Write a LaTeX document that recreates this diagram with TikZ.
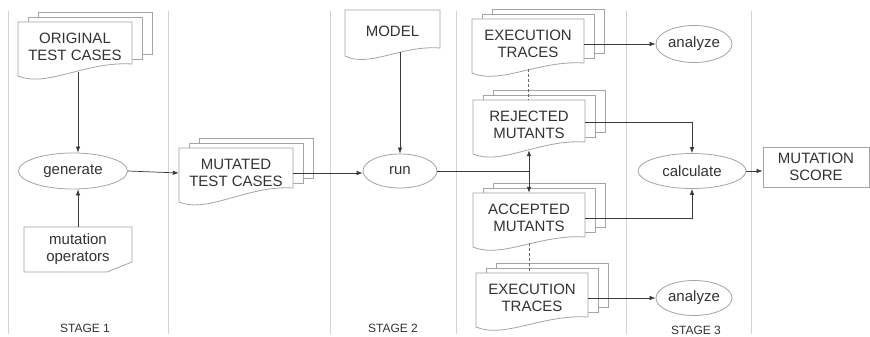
\documentclass[tikz,border=0pt]{standalone}
\usepackage{fontspec}
\setmainfont{Liberation Sans}
\usetikzlibrary{arrows.meta,shapes.geometric,calc}
\definecolor{edge}{HTML}{A4A4A4}
\definecolor{sepc}{HTML}{D2D2D2}
\definecolor{ink}{HTML}{333333}
\definecolor{arr}{HTML}{3A3A3A}

% front document: #1 x, #2 y, #3 w, #4 right height, #5 left height, #6 name, #7 text
\newcommand\docfront[7]{%
  \draw[docline] (#1,#2) -- ++(#3,0) -- ++(0,#4)
     .. controls ({#1+0.6*#3},{#2+#4-3}) and ({#1+0.25*#3},{#2+#5+12}) .. (#1,{#2+#5}) -- cycle;
  \node[doctext, minimum width=#3, minimum height={#5-4}] (#6) at ({#1+#3/2},{#2+(#5-4)/2}) {#7};}
\newcommand\docstack[7]{%
  \draw[docline] ({#1+20},{#2-10}) rectangle ++(#3,#4);
  \draw[docline] ({#1+10},{#2-5}) rectangle ++(#3,#4);
  \docfront{#1}{#2}{#3}{#4}{#5}{#6}{#7}}

\begin{document}
\begin{tikzpicture}[x=1pt,y=-1pt,
  docline/.style={draw=edge, fill=white, line width=0.8pt},
  doctext/.style={text=ink, font=\fontsize{15}{17}\selectfont, align=center, inner sep=0pt},
  proc/.style={ellipse, draw=edge, fill=white, line width=0.8pt, text=ink, font=\fontsize{15}{17}\selectfont, inner sep=0pt},
  conn/.style={draw=arr, line width=0.7pt, -{Latex[length=6pt,width=4.5pt]}},
  plainconn/.style={draw=arr, line width=0.7pt},
  dashconn/.style={draw=arr!75, line width=0.7pt, dash pattern=on 3pt off 2pt},
  stagelbl/.style={text=ink, font=\fontsize{12}{14}\selectfont, inner sep=0pt},
  sepline/.style={draw=sepc, line width=0.8pt}]

\fill[white] (0,0) rectangle (870,337);
\useasboundingbox (0,0) rectangle (870,337);

\foreach \xx in {8,168,330,456,626,751} \draw[sepline] (\xx,11) -- (\xx,334);

% documents
\docstack{18}{22}{114}{42}{54}{orig}{ORIGINAL\\TEST CASES}
\docstack{179}{148}{114}{40}{54}{mut}{MUTATED\\TEST CASES}
\docfront{345}{10}{95}{38}{46}{model}{MODEL}
\docstack{472}{19}{112}{44}{54}{ex1}{EXECUTION\\TRACES}
\docstack{473}{100}{112}{42}{54}{rej}{REJECTED\\MUTANTS}
\docstack{473}{193}{112}{44}{54}{acc}{ACCEPTED\\MUTANTS}
\docstack{476}{273}{112}{44}{54}{ex2}{EXECUTION\\TRACES}

% mutation operators card
\draw[docline] (24,227) -- (132,227) -- (132,262) -- (107,272) -- (24,272) -- cycle;
\node[doctext, minimum width=108, minimum height=45] (mo) at (78,249.5) {mutation\\operators};

% processes
\node[proc, minimum width=109, minimum height=36] (gen) at (73,171) {generate};
\node[proc, minimum width=74, minimum height=34] (run) at (400,171) {run};
\node[proc, minimum width=76, minimum height=37] (an1) at (694,44) {analyze};
\node[proc, minimum width=108, minimum height=35] (calc) at (692,171) {calculate};
\node[proc, minimum width=76, minimum height=35] (an2) at (694,298) {analyze};
\node[doctext, draw=edge, line width=0.8pt, minimum width=106, minimum height=40] (score) at (816,167) {MUTATION\\SCORE};

% connectors
\draw[conn] (orig.south -| mo.north) -- (mo.north |- gen.north);
\draw[conn] (mo.north) -- (mo.north |- gen.south);
\draw[conn] (gen.east) -- (mut.west);
\draw[conn] (mut.east) -- (mut.east -| run.west);
\draw[conn] (model.south -| run.north) -- (run.north);
\coordinate (j) at (rej.south |- run.east);
\draw[plainconn] (run.east) -- (j);
\draw[conn] (j) -- (rej.south);
\draw[conn] (j) -- (acc.north);
\draw[dashconn] (ex1.south) -- (ex1.south |- rej.north);
\draw[dashconn] (acc.south) -- (acc.south |- ex2.north);
\draw[conn] (ex1.east) -- (ex1.east -| an1.west);
\draw[conn] ([yshift=3pt]rej.east) -| (calc.north);
\draw[conn] (acc.east) -| (calc.south);
\draw[conn] (calc.east) -- (calc.east -| score.west);
\draw[conn] (ex2.east) -- (ex2.east -| an2.west);

% stage labels
\node[stagelbl] (s1) at (85,328) {STAGE 1};
\node[stagelbl] (s2) at (393,328) {STAGE 2};
\node[stagelbl] (s3) at (696,330) {STAGE 3};
\end{tikzpicture}
\end{document}
